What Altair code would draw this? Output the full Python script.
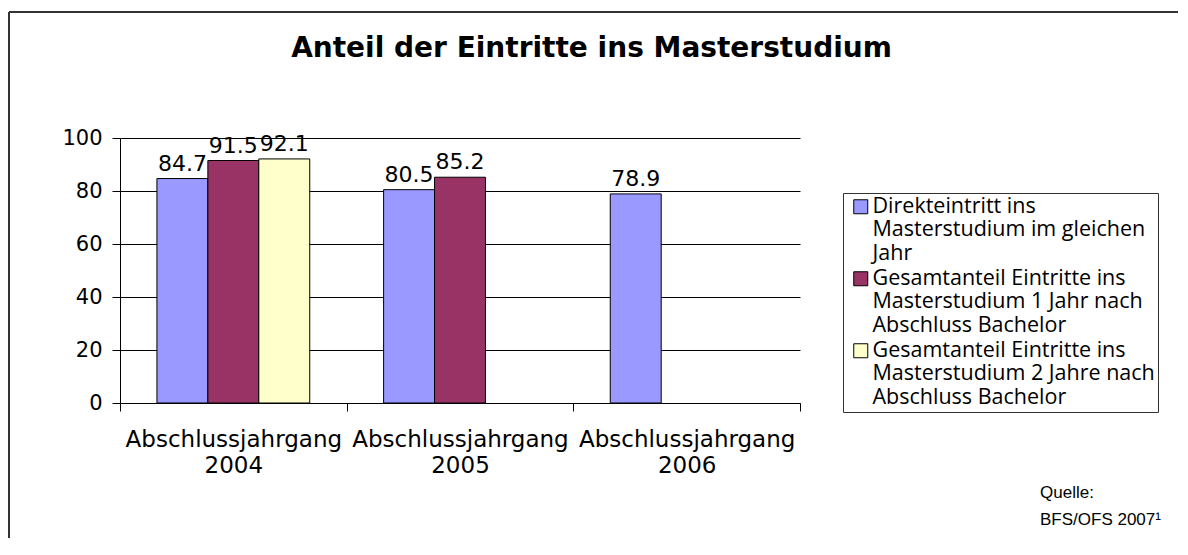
import altair as alt
import pandas as pd

# ---- data ----
categories = ["Abschlussjahrgang 2004", "Abschlussjahrgang 2005", "Abschlussjahrgang 2006"]
series = [
    "Direkteintritt ins\nMasterstudium im gleichen\nJahr",
    "Gesamtanteil Eintritte ins\nMasterstudium 1 Jahr nach\nAbschluss Bachelor",
    "Gesamtanteil Eintritte ins\nMasterstudium 2 Jahre nach\nAbschluss Bachelor",
]
direkt = [84.7, 80.5, 78.9]
nach_1_jahr = [91.5, 85.2, None]
nach_2_jahre = [92.1, None, None]
colors = ["#9999FF", "#993366", "#FFFFCC"]
y_ticks = [0, 20, 40, 60, 80, 100]
title_text = "Anteil der Eintritte ins Masterstudium"
source_text = "Quelle:\nBFS/OFS 2007¹"

rows = []
for s, vals in zip(series, [direkt, nach_1_jahr, nach_2_jahre]):
    for c, v in zip(categories, vals):
        if v is not None:
            rows.append({"cat": c, "series": s, "value": v})
df = pd.DataFrame(rows)

W, H = 680, 265
FONT = "DejaVu Sans"

x_enc = alt.X(
    "cat:N",
    sort=categories,
    scale=alt.Scale(domain=categories, paddingInner=0, paddingOuter=0),
    axis=alt.Axis(
        title=None,
        labelAngle=0,
        labelExpr="split(datum.label, ' ')",
        tickBand="extent",
        tickSize=8,
        labelPadding=17,
        labelLineHeight=26,
        labelFontSize=23,
        labelBaseline="top",
        labelLimit=400,
    ),
)
xoff_enc = alt.XOffset(
    "series:N",
    sort=series,
    scale=alt.Scale(domain=series, paddingOuter=0.725, paddingInner=0),
)
y_enc = alt.Y(
    "value:Q",
    scale=alt.Scale(domain=[0, 100], nice=False, zero=True),
    axis=alt.Axis(
        title=None,
        values=y_ticks,
        grid=True,
        gridColor="black",
        gridWidth=1,
        tickSize=8,
        labelPadding=10,
        labelFontSize=21,
    ),
)

base = alt.Chart(df)

bars = base.mark_bar(stroke="black", strokeWidth=1).encode(
    x=x_enc,
    xOffset=xoff_enc,
    y=y_enc,
    color=alt.Color(
        "series:N",
        sort=series,
        scale=alt.Scale(domain=series, range=colors),
        legend=alt.Legend(
            title=None,
            orient="none",
            legendX=723,
            legendY=55,
            padding=3,
            strokeColor="#333333",
            fillColor="white",
            symbolType="square",
            symbolSize=196,
            symbolOffset=4,
            symbolStrokeColor="black",
            symbolStrokeWidth=1,
            labelFont="Open Sans",
            labelFontSize=21.5,
            labelLimit=600,
            labelOffset=1,
            rowPadding=2,
            labelColor="black",
            labelExpr="split(datum.label, '\\n')",
        ),
    ),
)

labels = base.mark_text(
    dy=-8, baseline="alphabetic", fontSize=22, font=FONT, color="black"
).encode(
    x=x_enc,
    xOffset=xoff_enc,
    y=y_enc,
    text=alt.Text("value:Q", format=".1f"),
)

frame_src = alt.Chart(pd.DataFrame({"k": [0]}))
border_left = frame_src.mark_rule(color="#333333", strokeWidth=2).encode(
    x=alt.value(-111), y=alt.value(-126), y2=alt.value(410)
)
border_top = frame_src.mark_rule(color="#333333", strokeWidth=2).encode(
    x=alt.value(-111), x2=alt.value(1060), y=alt.value(-126)
)
title = frame_src.mark_text(
    font=FONT, fontSize=28, fontWeight="bold", align="center", baseline="middle",
    color="black"
).encode(x=alt.value(471.5), y=alt.value(-89), text=alt.value(title_text))
source = frame_src.mark_text(
    font="Liberation Sans", fontSize=17, align="left", baseline="middle",
    lineBreak="\n", lineHeight=27, color="black"
).encode(x=alt.value(920), y=alt.value(355), text=alt.value(source_text))

chart = (
    alt.layer(bars, labels, border_left, border_top, title, source)
    .properties(
        width=W,
        height=H,
        autosize=alt.AutoSizeParams(type="none"),
        padding={"left": 112, "top": 130, "right": 378, "bottom": 135},
    )
    .configure_view(stroke=None)
    .configure_axis(
        labelFont=FONT,
        labelColor="black",
        domainColor="black",
        tickColor="black",
        domainWidth=1,
    )
)

chart.save("out.html", embed_options={"renderer": "svg", "actions": False})
